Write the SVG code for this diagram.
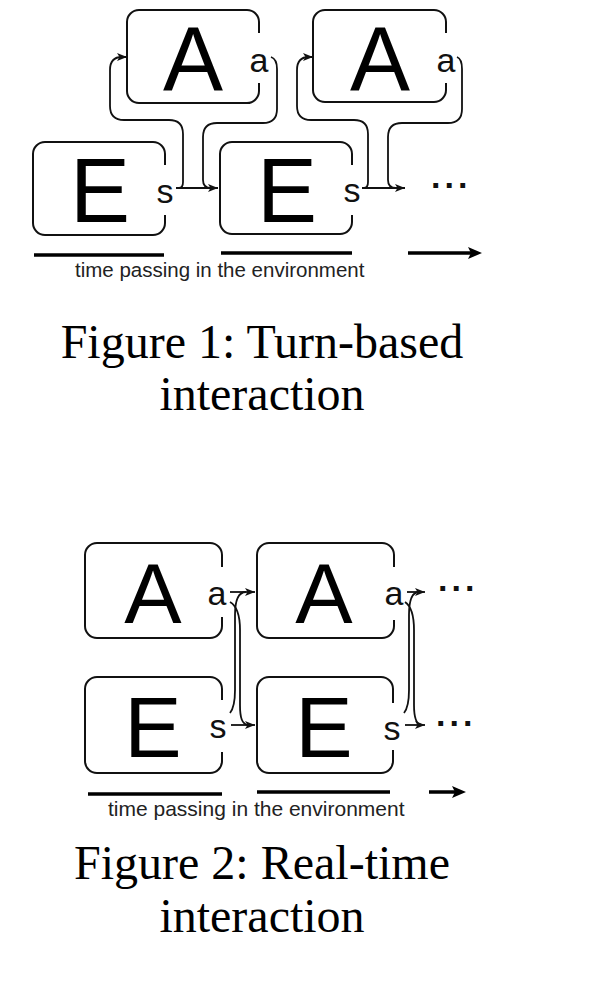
<svg xmlns="http://www.w3.org/2000/svg" width="600" height="994" viewBox="0 0 600 994">
<style>
.box{fill:none;stroke:#111;stroke-width:2}
.big{font-family:"Liberation Sans",Arial,sans-serif;fill:#000;text-anchor:middle}
.lbl{font-family:"Liberation Sans",Arial,sans-serif;font-size:34px;fill:#111;text-anchor:middle}
.dots{font-family:"Liberation Sans",Arial,sans-serif;font-size:34px;font-weight:bold;fill:#111;letter-spacing:4px}
.con{fill:none;stroke:#111;stroke-width:1.8}
.tl{stroke:#000;stroke-width:3.5}
.time{font-family:"Liberation Sans",Arial,sans-serif;fill:#222}
.cap{font-family:"Liberation Serif","Times New Roman",serif;font-size:48px;fill:#000;text-anchor:middle}
</style>
<defs>
<marker id="ah" viewBox="0 0 10 8" refX="10" refY="4" markerWidth="10" markerHeight="8" markerUnits="userSpaceOnUse" orient="auto"><path d="M0,0 L10,4 L0,8 L2.5,4 z" fill="#111"/></marker>
<marker id="ahb" viewBox="0 0 14 12" refX="3" refY="6" markerWidth="14" markerHeight="12" markerUnits="userSpaceOnUse" orient="auto"><path d="M0,0 L14,6 L0,12 L3,6 z" fill="#000"/></marker>
</defs>

<!-- Figure 1 -->
<g id="fig1-A1">
<path class="box" d="M259,83 V91 A12,12 0 0 1 247,103 H139 A12,12 0 0 1 127,91 V22 A12,12 0 0 1 139,10 H247 A12,12 0 0 1 259,22 V33"/>
<text class="big" x="193" y="90" font-size="90">A</text>
<text class="lbl" x="259" y="72">a</text>
</g>
<g id="fig1-E1">
<path class="box" d="M165,215 V223 A12,12 0 0 1 153,235 H45 A12,12 0 0 1 33,223 V154 A12,12 0 0 1 45,142 H153 A12,12 0 0 1 165,154 V165"/>
<text class="big" x="100" y="222" font-size="90">E</text>
<text class="lbl" x="165" y="203">s</text>
</g>
<g id="fig1-A2">
<path class="box" d="M446,83 V90 A12,12 0 0 1 434,102 H325 A12,12 0 0 1 313,90 V22 A12,12 0 0 1 325,10 H434 A12,12 0 0 1 446,22 V33"/>
<text class="big" x="380" y="90" font-size="90">A</text>
<text class="lbl" x="446" y="72">a</text>
</g>
<g id="fig1-E2">
<path class="box" d="M352,215 V222 A12,12 0 0 1 340,234 H232 A12,12 0 0 1 220,222 V154 A12,12 0 0 1 232,142 H340 A12,12 0 0 1 352,154 V165"/>
<text class="big" x="287" y="222" font-size="90">E</text>
<text class="lbl" x="352" y="202">s</text>
</g>
<g id="fig1-more">
<text class="dots" x="431" y="188">...</text>
</g>
<g id="fig1-connectors">
<path class="con" d="M176,188 H218" marker-end="url(#ah)"/>
<path class="con" d="M179,188 Q183,188 183,182 V134 Q183,120 169,120 H124 Q110,120 110,106 V70 Q110,57 122,57 H127" marker-end="url(#ah)"/>
<path class="con" d="M271,57 Q277,59 277,69 V109 Q277,123 263,123 H217 Q203,123 203,137 V180 Q203,188 211,188"/>
<path class="con" d="M362,188 H405" marker-end="url(#ah)"/>
<path class="con" d="M364,188 Q368,188 368,182 V134 Q368,120 354,120 H311 Q297,120 297,106 V70 Q297,57 309,57 H313" marker-end="url(#ah)"/>
<path class="con" d="M457,57 Q462,59 462,69 V109 Q462,123 448,123 H402 Q388,123 388,137 V180 Q388,188 396,188"/>
</g>
<g id="fig1-timeline">
<line class="tl" x1="34" y1="255" x2="164" y2="255"/>
<line class="tl" x1="221" y1="253" x2="352" y2="253"/>
<line class="tl" x1="408" y1="253" x2="471" y2="253" marker-end="url(#ahb)"/>
<text class="time" x="75" y="277" font-size="20.5">time passing in the environment</text>
</g>
<g id="fig1-caption">
<text class="cap" x="262" y="358">Figure 1: Turn-based</text>
<text class="cap" x="262" y="410">interaction</text>
</g>

<!-- Figure 2 -->
<g id="fig2-A1">
<path class="box" d="M222,617 V626 A12,12 0 0 1 210,638 H97 A12,12 0 0 1 85,626 V555 A12,12 0 0 1 97,543 H210 A12,12 0 0 1 222,555 V567"/>
<text class="big" x="153" y="623" font-size="86">A</text>
<text class="lbl" x="217" y="605">a</text>
</g>
<g id="fig2-E1">
<path class="box" d="M222,752 V761 A12,12 0 0 1 210,773 H97 A12,12 0 0 1 85,761 V689 A12,12 0 0 1 97,677 H210 A12,12 0 0 1 222,689 V700"/>
<text class="big" x="153" y="757" font-size="86">E</text>
<text class="lbl" x="218" y="738">s</text>
</g>
<g id="fig2-A2">
<path class="box" d="M394,620 V626 A12,12 0 0 1 382,638 H269 A12,12 0 0 1 257,626 V555 A12,12 0 0 1 269,543 H382 A12,12 0 0 1 394,555 V567"/>
<text class="big" x="324" y="623" font-size="86">A</text>
<text class="lbl" x="394" y="605">a</text>
</g>
<g id="fig2-E2">
<path class="box" d="M393,750 V761 A12,12 0 0 1 381,773 H269 A12,12 0 0 1 257,761 V689 A12,12 0 0 1 269,677 H381 A12,12 0 0 1 393,689 V703"/>
<text class="big" x="324" y="757" font-size="86">E</text>
<text class="lbl" x="392" y="740">s</text>
</g>
<g id="fig2-more">
<text class="dots" x="438" y="591">...</text>
<text class="dots" x="436" y="726">...</text>
</g>
<g id="fig2-connectors">
<path class="con" d="M230,592 H255" marker-end="url(#ah)"/>
<path class="con" d="M231,725 H255" marker-end="url(#ah)"/>
<path class="con" d="M230,602 C237,606 240,614 240,630 L240,705 C240,718 242,724 248,725"/>
<path class="con" d="M230,713 C234,708 235,700 235,690 L235,615 C235,600 238,592 246,592"/>
<path class="con" d="M407,592 H425" marker-end="url(#ah)"/>
<path class="con" d="M405,725 H425" marker-end="url(#ah)"/>
<path class="con" d="M405,602 C411,606 414,614 414,630 L414,705 C414,718 416,724 421,725"/>
<path class="con" d="M404,713 C408,708 409,700 409,690 L409,615 C409,600 412,592 419,592"/>
</g>
<g id="fig2-timeline">
<line class="tl" x1="88" y1="794" x2="222" y2="794"/>
<line class="tl" x1="257" y1="792" x2="390" y2="792"/>
<line class="tl" x1="429" y1="792" x2="455" y2="792" marker-end="url(#ahb)"/>
<text class="time" x="108" y="816" font-size="21">time passing in the environment</text>
</g>
<g id="fig2-caption">
<text class="cap" x="262" y="879">Figure 2: Real-time</text>
<text class="cap" x="262" y="932">interaction</text>
</g>
</svg>
